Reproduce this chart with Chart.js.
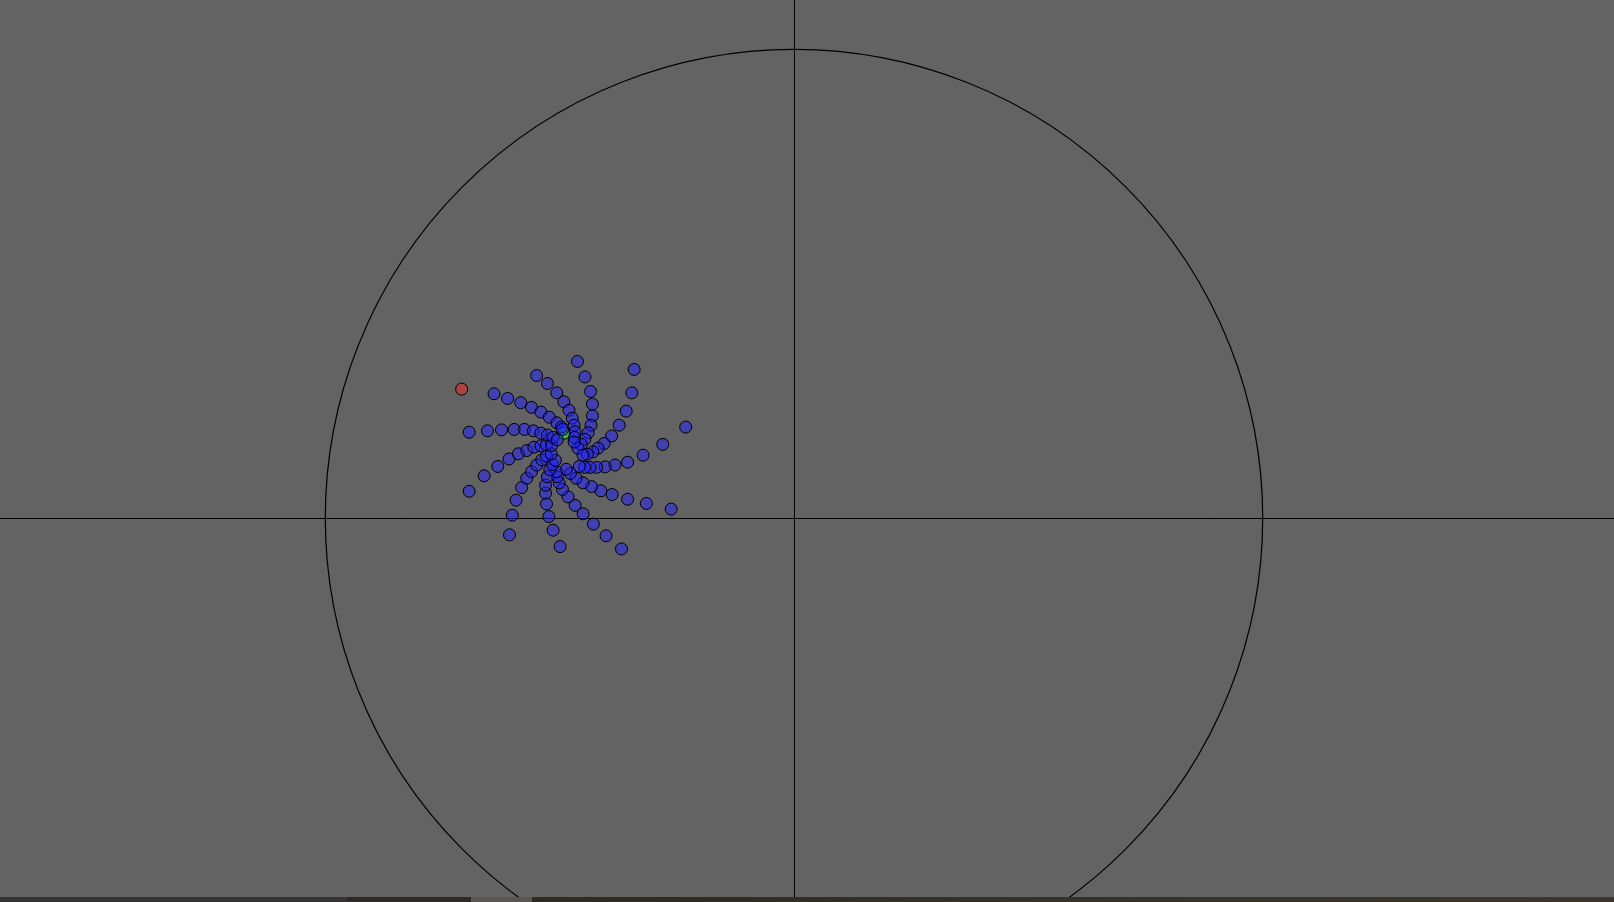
<!DOCTYPE html>
<html>
<head>
<meta charset="utf-8">
<script src="https://cdn.jsdelivr.net/npm/chart.js@4.4.1/dist/chart.umd.min.js"></script>
<style>
  html, body { margin: 0; padding: 0; background: #636363; overflow: hidden; }
  #wrap { position: relative; width: 1614px; height: 902px; }
  #c { position: absolute; left: 0; top: 0; }
  .strip { position: absolute; top: 897px; height: 5px; }
</style>
</head>
<body>
<div id="wrap">
  <canvas id="c" width="1614" height="902"></canvas>
  <div class="strip" style="left:0;width:347px;background:#353535"></div>
  <div class="strip" style="left:347px;width:124px;background:#2d2a24"></div>
  <div class="strip" style="left:471px;width:61px;background:#5a5751"></div>
  <div class="strip" style="left:532px;width:1082px;background:linear-gradient(90deg,#2e2a22,#3a3327 60%,#3d3629)"></div>
</div>
<script>
// ---- data (complex-plane coordinates, unit circle radius = 1) ----
const blueX = [
  // arm A
  -0.462,-0.446,-0.434,-0.430,-0.430,-0.433,-0.439,-0.446,-0.454,-0.461,
  // arm B
  -0.341,-0.346,-0.358,-0.373,-0.389,-0.405,-0.418,-0.429,-0.441,-0.450,
  // arm C
  -0.231,-0.280,-0.322,-0.355,-0.382,-0.403,-0.421,-0.435,-0.447,-0.458,
  // arm D
  -0.262,-0.315,-0.355,-0.388,-0.412,-0.432,-0.450,-0.465,-0.477,-0.486,
  // arm E
  -0.368,-0.401,-0.428,-0.450,-0.467,-0.482,-0.494,-0.501,-0.505,-0.507,
  // arm F
  -0.499,-0.514,-0.523,-0.528,-0.530,-0.530,-0.526,-0.521,-0.515,-0.509,
  // arm G
  -0.607,-0.601,-0.593,-0.581,-0.570,-0.560,-0.549,-0.538,-0.528,-0.518,
  // arm H
  -0.693,-0.661,-0.632,-0.608,-0.588,-0.570,-0.555,-0.540,-0.528,-0.517,
  // arm I
  -0.693,-0.654,-0.624,-0.597,-0.575,-0.556,-0.540,-0.526,-0.514,-0.505,
  // arm J
  -0.640,-0.611,-0.583,-0.560,-0.540,-0.522,-0.506,-0.496,-0.494,
  // arm K
  -0.549,-0.526,-0.506,-0.491,-0.480,-0.473,-0.469,-0.467,-0.468,-0.469
];
const blueY = [
  0.334,0.301,0.270,0.243,0.218,0.198,0.182,0.168,0.157,0.149,
  0.317,0.267,0.228,0.198,0.175,0.159,0.149,0.141,0.136,0.134,
  0.194,0.157,0.134,0.119,0.113,0.109,0.108,0.108,0.108,0.110,
  0.019,0.031,0.040,0.050,0.058,0.067,0.075,0.085,0.095,0.104,
  -0.066,-0.038,-0.013,0.009,0.027,0.045,0.061,0.075,0.088,0.099,
  -0.061,-0.026,0.003,0.030,0.053,0.070,0.088,0.103,0.114,0.123,
  -0.036,0.006,0.038,0.065,0.085,0.099,0.113,0.124,0.132,0.137,
  0.057,0.090,0.110,0.126,0.137,0.144,0.151,0.154,0.156,0.155,
  0.183,0.186,0.188,0.189,0.189,0.186,0.181,0.177,0.172,0.167,
  0.265,0.255,0.246,0.236,0.226,0.215,0.203,0.194,0.189,
  0.304,0.287,0.267,0.248,0.230,0.213,0.198,0.184,0.172,0.162
];
const redX = [-0.709];
const redY = [0.275];
const greenX = [-0.490];
const greenY = [0.181];

const circleRadius = 1;
const xRange = [-1.694, 1.7495];
const yRange = [-0.8193, 1.1052];

function toPoints(xs, ys) { return xs.map((x, i) => ({ x: x, y: ys[i] })); }

const backdrop = {
  id: 'backdrop',
  beforeDraw(chart) {
    const ctx = chart.ctx;
    ctx.save();
    ctx.fillStyle = '#636363';
    ctx.fillRect(0, 0, chart.width, chart.height);
    ctx.restore();
  },
  beforeDatasetsDraw(chart) {
    const ctx = chart.ctx, xs = chart.scales.x, ys = chart.scales.y;
    const x0 = xs.getPixelForValue(0), y0 = ys.getPixelForValue(0);
    ctx.save();
    ctx.strokeStyle = '#000';
    ctx.lineWidth = 1;
    ctx.beginPath();
    ctx.moveTo(Math.round(x0) + 0.5, 0);
    ctx.lineTo(Math.round(x0) + 0.5, chart.height);
    ctx.moveTo(0, Math.round(y0) + 0.5);
    ctx.lineTo(chart.width, Math.round(y0) + 0.5);
    ctx.stroke();
    const r = xs.getPixelForValue(circleRadius) - x0;
    ctx.lineWidth = 1.2;
    ctx.beginPath();
    ctx.arc(x0, y0, r, 0, Math.PI * 2);
    ctx.stroke();
    ctx.restore();
  }
};

new Chart(document.getElementById('c'), {
  type: 'scatter',
  data: {
    datasets: [
      { label: 'iterates', data: toPoints(blueX, blueY), backgroundColor: 'rgba(30,30,255,0.5)',
        borderColor: '#000', borderWidth: 1, pointRadius: 6, pointHoverRadius: 6, clip: false },
      { label: 'red', data: toPoints(redX, redY), backgroundColor: 'rgba(255,30,30,0.5)',
        borderColor: '#000', borderWidth: 1, pointRadius: 6, pointHoverRadius: 6, clip: false },
      { label: 'green', data: toPoints(greenX, greenY), backgroundColor: 'rgba(30,255,30,0.5)',
        borderColor: '#000', borderWidth: 1, pointRadius: 6, pointHoverRadius: 6, clip: false }
    ]
  },
  options: {
    responsive: false,
    animation: false,
    events: [],
    layout: { padding: 0, autoPadding: false },
    plugins: { legend: { display: false }, tooltip: { enabled: false } },
    scales: {
      x: { type: 'linear', min: xRange[0], max: xRange[1], display: false },
      y: { type: 'linear', min: yRange[0], max: yRange[1], display: false }
    }
  },
  plugins: [backdrop]
});
</script>
</body>
</html>
